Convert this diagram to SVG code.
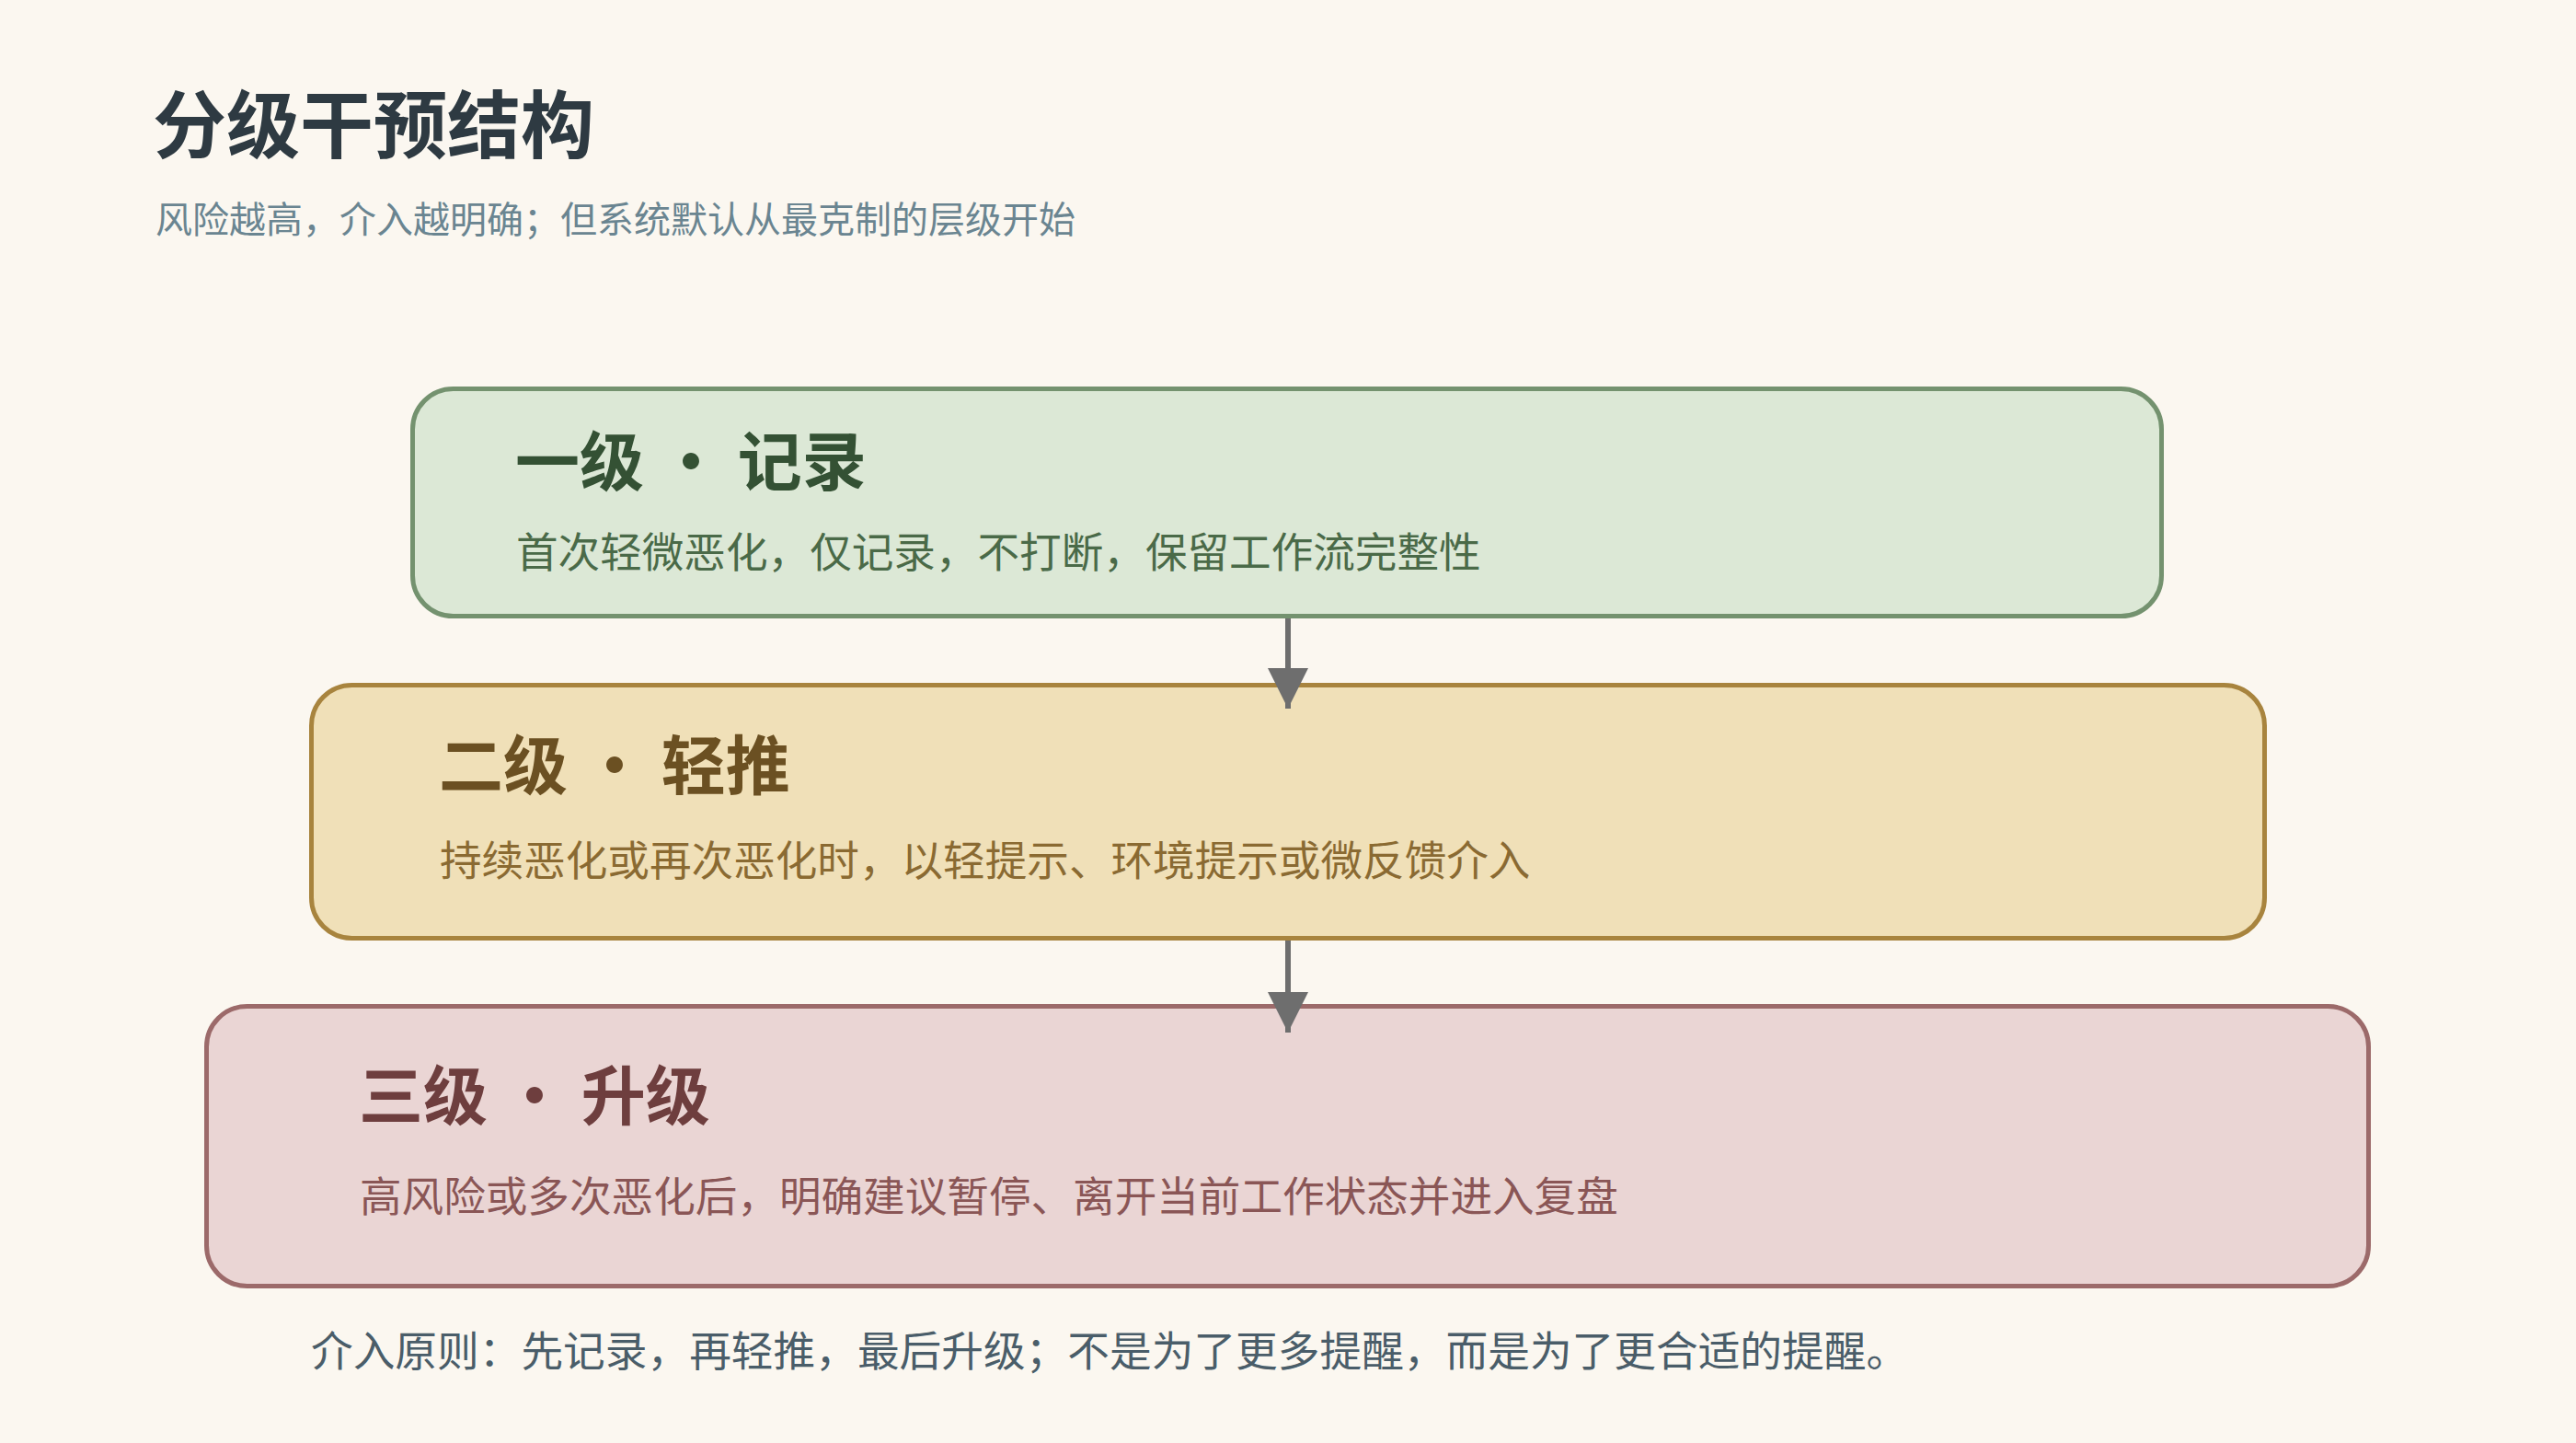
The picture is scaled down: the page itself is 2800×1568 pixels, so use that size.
<svg xmlns="http://www.w3.org/2000/svg" width="2800" height="1568" viewBox="0 0 2800 1568">
<defs>
<style>
text{font-family:"Noto Sans CJK SC","Noto Sans",sans-serif;}
.h1{font-size:80px;font-weight:700;fill:#2e3a42;}
.sub{font-size:40px;fill:#6a8591;}
.bt{font-size:70px;font-weight:700;}
.bd{font-size:45.6px;}
.foot{font-size:45.7px;fill:#4a5d69;}
.conn{stroke:#6e6e6e;stroke-width:6;fill:none;}
</style>
<marker id="ah" markerUnits="userSpaceOnUse" markerWidth="44" markerHeight="44" refX="44" refY="22" orient="auto">
<path d="M0,0 L44,22 L0,44 Z" fill="#6e6e6e"/>
</marker>
</defs>
<rect x="0" y="0" width="2800" height="1568" fill="#fbf7f0"/>
<g id="header">
<text class="h1" x="166" y="165">分级干预结构</text>
<text class="sub" x="169" y="253">风险越高，介入越明确；但系统默认从最克制的层级开始</text>
</g>
<g id="level1">
<rect x="448.5" y="422.5" width="1901" height="247" rx="44" fill="#dce8d6" stroke="#74926f" stroke-width="5"/>
<text class="bt" x="560" y="528" fill="#345134">一级 · 记录</text>
<text class="bd" x="561" y="617" fill="#4a6a48">首次轻微恶化，仅记录，不打断，保留工作流完整性</text>
</g>
<g id="level2">
<rect x="338.5" y="744.5" width="2123" height="275" rx="44" fill="#f0e0b8" stroke="#a8843e" stroke-width="5"/>
<text class="bt" x="477" y="858" fill="#6b5022">二级 · 轻推</text>
<text class="bd" x="478" y="952" fill="#8a6a32">持续恶化或再次恶化时，以轻提示、环境提示或微反馈介入</text>
</g>
<g id="level3">
<rect x="224.5" y="1093.5" width="2350" height="304" rx="44" fill="#ead5d4" stroke="#9c6a6a" stroke-width="5"/>
<text class="bt" x="390" y="1217" fill="#6e3e3e">三级 · 升级</text>
<text class="bd" x="391" y="1317" fill="#8a5656">高风险或多次恶化后，明确建议暂停、离开当前工作状态并进入复盘</text>
</g>
<g id="connectors">
<path class="conn" d="M1400,672 L1400,770" marker-end="url(#ah)"/>
<path class="conn" d="M1400,1022 L1400,1122" marker-end="url(#ah)"/>
</g>
<g id="footer">
<text class="foot" x="338" y="1485">介入原则：先记录，再轻推，最后升级；不是为了更多提醒，而是为了更合适的提醒。</text>
</g>
</svg>
